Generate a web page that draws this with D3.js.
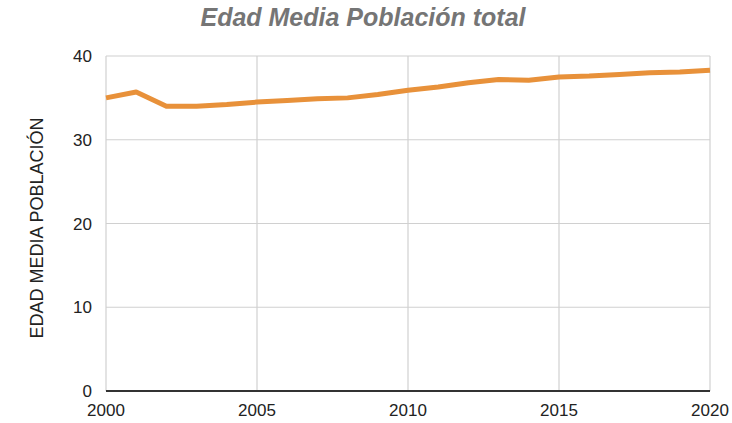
<!DOCTYPE html>
<html>
<head>
<meta charset="utf-8">
<script src="https://cdn.jsdelivr.net/npm/d3@7"></script>
<style>
  body { margin: 0; background: #fff; }
  svg { display: block; font-family: "Liberation Sans", Arial, sans-serif; }
</style>
</head>
<body>
<svg id="chart"></svg>
<script>
const width = 732, height = 423;

// data
const years = [2000, 2001, 2002, 2003, 2004, 2005, 2006, 2007, 2008, 2009, 2010,
               2011, 2012, 2013, 2014, 2015, 2016, 2017, 2018, 2019, 2020];
const edadMedia = [35.0, 35.7, 34.0, 34.0, 34.2, 34.5, 34.7, 34.9, 35.0, 35.4, 35.9,
                   36.3, 36.8, 37.2, 37.1, 37.5, 37.6, 37.8, 38.0, 38.1, 38.3];
const xTicks = [2000, 2005, 2010, 2015, 2020];
const yTicks = [0, 10, 20, 30, 40];

const margin = { top: 56, right: 22, bottom: 32, left: 106 };

const svg = d3.select("#chart").attr("width", width).attr("height", height);

const x = d3.scaleLinear().domain([2000, 2020]).range([margin.left, width - margin.right]);
const y = d3.scaleLinear().domain([0, 40]).range([height - margin.bottom, margin.top]);

// gridlines
svg.append("g")
  .selectAll("line")
  .data(yTicks.filter(d => d > 0))
  .join("line")
  .attr("x1", x.range()[0]).attr("x2", x.range()[1])
  .attr("y1", d => y(d)).attr("y2", d => y(d))
  .attr("stroke", "#d0d0d0").attr("stroke-width", 1.2);

svg.append("g")
  .selectAll("line")
  .data(xTicks)
  .join("line")
  .attr("x1", d => x(d)).attr("x2", d => x(d))
  .attr("y1", y(40)).attr("y2", y(0))
  .attr("stroke", "#d0d0d0").attr("stroke-width", 1.2);

// y axis labels
svg.append("g")
  .selectAll("text")
  .data(yTicks)
  .join("text")
  .attr("x", margin.left - 14)
  .attr("y", d => y(d))
  .attr("dy", "0.36em")
  .attr("text-anchor", "end")
  .attr("font-size", 17)
  .attr("fill", "#222")
  .text(d => d);

// x axis labels
svg.append("g")
  .selectAll("text")
  .data(xTicks)
  .join("text")
  .attr("x", d => x(d))
  .attr("y", y(0) + 25)
  .attr("text-anchor", "middle")
  .attr("font-size", 17)
  .attr("fill", "#222")
  .text(d => d);

// baseline
svg.append("line")
  .attr("x1", x.range()[0]).attr("x2", x.range()[1])
  .attr("y1", y(0)).attr("y2", y(0))
  .attr("stroke", "#333").attr("stroke-width", 2);

// series
const line = d3.line()
  .x((d, i) => x(years[i]))
  .y(d => y(d));

svg.append("path")
  .datum(edadMedia)
  .attr("d", line)
  .attr("fill", "none")
  .attr("stroke", "#e8913a")
  .attr("stroke-width", 5)
  .attr("stroke-linejoin", "round");

// title
svg.append("text")
  .attr("x", 363)
  .attr("y", 26)
  .attr("text-anchor", "middle")
  .attr("font-size", 25)
  .attr("font-weight", "bold")
  .attr("font-style", "italic")
  .attr("fill", "#757575")
  .text("Edad Media Población total");

// y axis title
svg.append("text")
  .attr("transform", "translate(43,228) rotate(-90)")
  .attr("text-anchor", "middle")
  .attr("font-size", 18)
  .attr("fill", "#222")
  .text("EDAD MEDIA POBLACIÓN");
</script>
</body>
</html>
